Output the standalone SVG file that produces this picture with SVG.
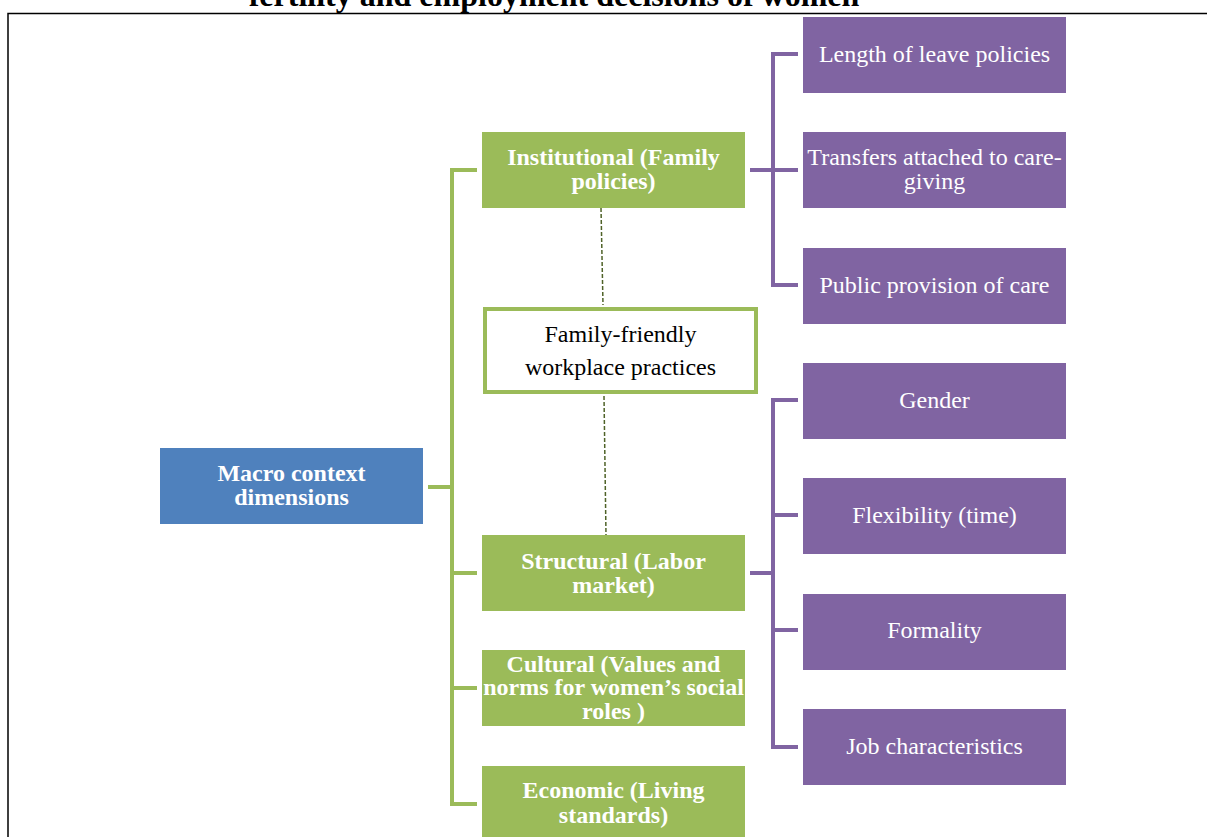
<svg xmlns="http://www.w3.org/2000/svg" width="1207" height="837" viewBox="0 0 1207 837">
<defs>
<style>
.t{font-family:"Liberation Serif","Times New Roman",serif;font-size:24px;text-anchor:middle;}
.w{fill:#ffffff;}
.b{font-weight:bold;}
.k{fill:#000000;}
.green{fill:#9BBB59;}
.purple{fill:#8064A2;}
.blue{fill:#4F81BD;}
.gl{stroke:#9BBB59;stroke-width:4;fill:none;}
.pl{stroke:#8064A2;stroke-width:4;fill:none;}
.dl{stroke:#4F6228;stroke-width:1.5;stroke-dasharray:4 2;fill:none;}
</style>
</defs>
<rect width="1207" height="837" fill="#ffffff"/>
<g id="frame">
<path d="M8 837 V13.5 H1207" stroke="#000" stroke-width="1.5" fill="none"/>
<text x="554" y="6" class="t b k" style="font-size:32px">fertility and employment decisions of women</text>
</g>
<g id="connectors">
<path class="gl" d="M428 487 H452"/>
<path class="gl" d="M477 170 H452 V804 H477"/>
<path class="gl" d="M452 573 H477"/>
<path class="gl" d="M452 688 H477"/>
<path class="pl" d="M750 170 H798"/>
<path class="pl" d="M798 54 H773 V285 H798"/>
<path class="pl" d="M750 573 H773"/>
<path class="pl" d="M798 400 H773 V747 H798"/>
<path class="pl" d="M773 515 H798"/>
<path class="pl" d="M773 630 H798"/>
<path class="dl" d="M601 208 L603 305"/>
<path class="dl" d="M604 396 L606 535"/>
</g>
<g id="macro">
<rect class="blue" x="160" y="448" width="263" height="76"/>
<text class="t b w" x="291.5" y="481">Macro context</text>
<text class="t b w" x="291.5" y="505">dimensions</text>
</g>
<g id="institutional">
<rect class="green" x="482" y="132" width="263" height="76"/>
<text class="t b w" x="613.5" y="165">Institutional (Family</text>
<text class="t b w" x="613.5" y="189">policies)</text>
</g>
<g id="family-friendly">
<rect x="485" y="309" width="271" height="83" fill="#ffffff" stroke="#9BBB59" stroke-width="4"/>
<text class="t k" x="620.5" y="342">Family-friendly</text>
<text class="t k" x="620.5" y="375">workplace practices</text>
</g>
<g id="structural">
<rect class="green" x="482" y="535" width="263" height="76"/>
<text class="t b w" x="613.5" y="569">Structural (Labor</text>
<text class="t b w" x="613.5" y="593">market)</text>
</g>
<g id="cultural">
<rect class="green" x="482" y="650" width="263" height="76"/>
<text class="t b w" x="613.5" y="672">Cultural (Values and</text>
<text class="t b w" x="613.5" y="695">norms for women’s social</text>
<text class="t b w" x="613.5" y="719">roles )</text>
</g>
<g id="economic">
<rect class="green" x="482" y="766" width="263" height="76"/>
<text class="t b w" x="613.5" y="798">Economic (Living</text>
<text class="t b w" x="613.5" y="823">standards)</text>
</g>
<g id="length-leave">
<rect class="purple" x="803" y="17" width="263" height="76"/>
<text class="t w" x="934.5" y="62">Length of leave policies</text>
</g>
<g id="transfers">
<rect class="purple" x="803" y="132" width="263" height="76"/>
<text class="t w" x="934.5" y="165">Transfers attached to care-</text>
<text class="t w" x="934.5" y="189">giving</text>
</g>
<g id="public-care">
<rect class="purple" x="803" y="248" width="263" height="76"/>
<text class="t w" x="934.5" y="293">Public provision of care</text>
</g>
<g id="gender">
<rect class="purple" x="803" y="363" width="263" height="76"/>
<text class="t w" x="934.5" y="408">Gender</text>
</g>
<g id="flexibility">
<rect class="purple" x="803" y="478" width="263" height="76"/>
<text class="t w" x="934.5" y="523">Flexibility (time)</text>
</g>
<g id="formality">
<rect class="purple" x="803" y="594" width="263" height="76"/>
<text class="t w" x="934.5" y="638">Formality</text>
</g>
<g id="job-characteristics">
<rect class="purple" x="803" y="709" width="263" height="76"/>
<text class="t w" x="934.5" y="754">Job characteristics</text>
</g>
</svg>
